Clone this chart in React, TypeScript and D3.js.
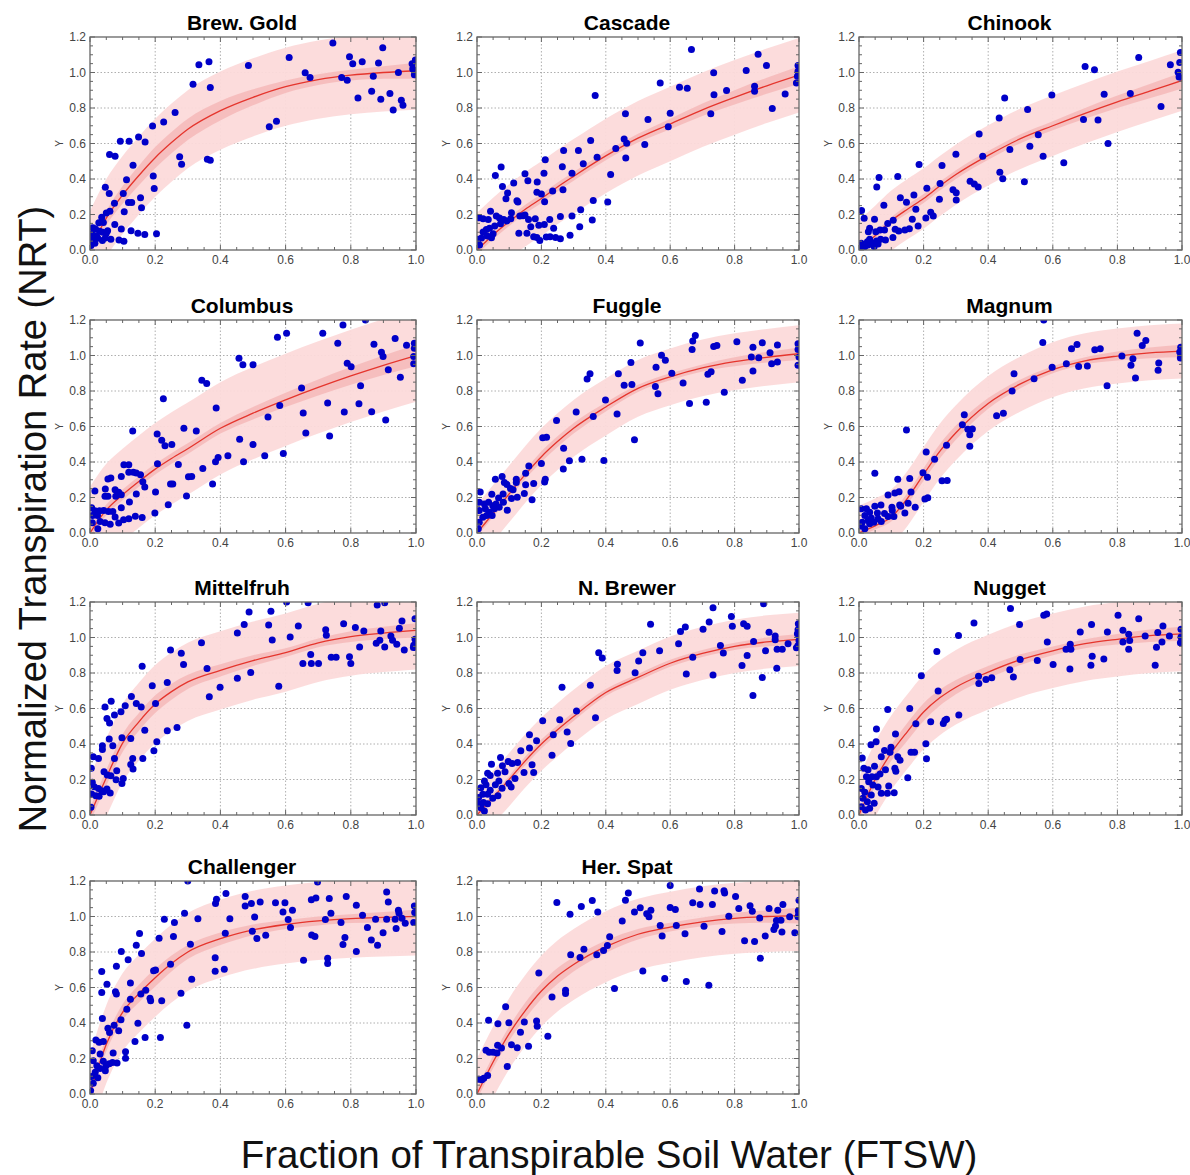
import React from "react";
import * as d3 from "d3";

const FIT_X = [0, 0.05, 0.1, 0.15, 0.2, 0.25, 0.3, 0.4, 0.5, 0.6, 0.7, 0.8, 0.9, 1.0];

const X_TICKS = [0, 0.2, 0.4, 0.6, 0.8, 1.0];
const Y_TICKS = [0, 0.2, 0.4, 0.6, 0.8, 1.0, 1.2];

const brewGoldFit = [0, 0.18, 0.31, 0.42, 0.52, 0.605, 0.68, 0.785, 0.86, 0.92, 0.96, 0.985, 1.0, 1.01];
const cascadeFit = [0.0, 0.085, 0.16, 0.23, 0.29, 0.355, 0.415, 0.53, 0.63, 0.71, 0.79, 0.86, 0.925, 0.985];
const chinookFit = [0.0, 0.08, 0.165, 0.23, 0.29, 0.36, 0.425, 0.533, 0.627, 0.7, 0.77, 0.835, 0.895, 0.955];
const columbusFit = [0.0, 0.13, 0.215, 0.29, 0.36, 0.42, 0.475, 0.59, 0.675, 0.75, 0.82, 0.885, 0.945, 1.0];
const fuggleFit = [0.0, 0.11, 0.22, 0.33, 0.43, 0.515, 0.59, 0.71, 0.815, 0.88, 0.93, 0.965, 0.99, 1.01];
const magnumFit = [0.0, 0.04, 0.09, 0.195, 0.33, 0.46, 0.565, 0.73, 0.84, 0.92, 0.97, 0.997, 1.015, 1.025];
const mittelFit = [0.0, 0.21, 0.405, 0.525, 0.625, 0.695, 0.75, 0.815, 0.87, 0.915, 0.97, 1.005, 1.025, 1.04];
const nBrewerFit = [0.0, 0.1, 0.2, 0.305, 0.4, 0.48, 0.555, 0.69, 0.775, 0.855, 0.91, 0.95, 0.975, 0.99];
const nuggetFit = [0.0, 0.2, 0.35, 0.47, 0.58, 0.66, 0.72, 0.805, 0.875, 0.925, 0.965, 0.99, 1.01, 1.02];
const challengerFit = [0.0, 0.28, 0.46, 0.565, 0.655, 0.735, 0.8, 0.875, 0.925, 0.955, 0.975, 0.988, 0.995, 1.0];
const herSpatFit = [0.0, 0.18, 0.34, 0.47, 0.58, 0.665, 0.73, 0.83, 0.9, 0.94, 0.97, 0.99, 1.0, 1.005];

// confidence band half-widths on FIT_X
const brewGoldConf = [0.03, 0.04, 0.05, 0.055, 0.06, 0.06, 0.06, 0.055, 0.045, 0.035, 0.03, 0.03, 0.035, 0.045];
const cascadeConf = [0.025, 0.025, 0.025, 0.025, 0.025, 0.025, 0.025, 0.025, 0.025, 0.03, 0.035, 0.04, 0.045, 0.05];
const chinookConf = [0.02, 0.02, 0.02, 0.025, 0.025, 0.025, 0.025, 0.025, 0.025, 0.025, 0.03, 0.035, 0.04, 0.045];
const columbusConf = [0.03, 0.03, 0.03, 0.03, 0.03, 0.03, 0.03, 0.03, 0.035, 0.04, 0.045, 0.05, 0.055, 0.06];
const fuggleConf = [0.02, 0.02, 0.025, 0.025, 0.03, 0.03, 0.03, 0.025, 0.02, 0.02, 0.02, 0.025, 0.03, 0.035];
const magnumConf = [0.02, 0.02, 0.025, 0.03, 0.035, 0.04, 0.04, 0.03, 0.025, 0.02, 0.02, 0.025, 0.03, 0.035];
const mittelConf = [0.04, 0.045, 0.05, 0.05, 0.05, 0.045, 0.04, 0.035, 0.03, 0.025, 0.025, 0.03, 0.035, 0.04];
const nBrewerConf = [0.02, 0.02, 0.02, 0.025, 0.025, 0.025, 0.025, 0.02, 0.02, 0.02, 0.02, 0.02, 0.025, 0.03];
const nuggetConf = [0.03, 0.04, 0.045, 0.05, 0.05, 0.045, 0.04, 0.035, 0.03, 0.025, 0.025, 0.03, 0.035, 0.04];
const challengerConf = [0.03, 0.04, 0.045, 0.05, 0.05, 0.045, 0.04, 0.035, 0.03, 0.025, 0.025, 0.025, 0.03, 0.04];
const herSpatConf = [0.03, 0.035, 0.04, 0.045, 0.045, 0.045, 0.04, 0.035, 0.03, 0.025, 0.025, 0.03, 0.035, 0.045];

const brewGoldPts: [number, number][] = [
  [0.745, 1.166], [0.898, 1.14], [0.611, 1.085], [0.796, 1.089], [0.806, 1.049], [0.835, 1.06], [0.885, 1.053],
  [0.988, 1.049], [0.998, 1.07], [0.99, 1.02], [0.995, 0.987], [0.946, 1.0], [0.66, 0.998], [0.675, 0.972],
  [0.772, 0.972], [0.789, 0.957], [0.869, 0.979], [0.486, 1.04], [0.334, 1.043], [0.365, 1.06], [0.369, 0.915],
  [0.316, 0.934], [0.822, 0.857], [0.864, 0.894], [0.892, 0.849], [0.92, 0.881], [0.93, 0.789], [0.955, 0.843],
  [0.96, 0.815], [0.55, 0.694], [0.572, 0.725], [0.261, 0.774], [0.226, 0.721], [0.192, 0.698], [0.149, 0.636],
  [0.093, 0.613], [0.12, 0.613], [0.169, 0.609], [0.06, 0.538], [0.077, 0.528], [0.275, 0.525], [0.281, 0.483],
  [0.36, 0.511], [0.369, 0.506], [0.132, 0.477], [0.194, 0.417], [0.197, 0.347], [0.112, 0.396], [0.047, 0.353],
  [0.059, 0.319], [0.102, 0.319], [0.075, 0.264], [0.118, 0.268], [0.128, 0.268], [0.155, 0.294], [0.158, 0.238],
  [0.105, 0.215], [0.061, 0.219], [0.05, 0.208], [0.036, 0.185], [0.027, 0.153], [0.041, 0.155], [0.009, 0.125],
  [0.017, 0.119], [0.054, 0.109], [0.03, 0.106], [0.076, 0.143], [0.096, 0.119], [0.126, 0.109], [0.147, 0.094],
  [0.168, 0.087], [0.204, 0.091], [0.005, 0.091], [0.007, 0.057], [0.015, 0.038], [0.024, 0.066], [0.038, 0.053],
  [0.047, 0.068], [0.064, 0.06], [0.089, 0.057], [0.104, 0.049], [0.003, 0.025], [0.0, 0.072], [0.05, 0.094],
  [0.039, 0.1], [0.02, 0.08],
];

const cascadePts: [number, number][] = [
  [0.666, 1.129], [0.873, 1.103], [0.899, 1.039], [0.836, 1.011], [0.735, 0.999], [0.997, 1.039], [0.997, 1.007],
  [0.995, 0.979], [0.992, 0.941], [0.569, 0.941], [0.629, 0.917], [0.653, 0.911], [0.862, 0.923], [0.862, 0.894],
  [0.775, 0.898], [0.736, 0.874], [0.957, 0.879], [0.367, 0.87], [0.917, 0.797], [0.461, 0.767], [0.6, 0.771],
  [0.726, 0.767], [0.531, 0.735], [0.594, 0.694], [0.457, 0.626], [0.353, 0.617], [0.465, 0.602], [0.521, 0.594],
  [0.431, 0.572], [0.315, 0.561], [0.269, 0.561], [0.373, 0.523], [0.462, 0.519], [0.212, 0.508], [0.33, 0.486],
  [0.265, 0.469], [0.075, 0.467], [0.295, 0.433], [0.208, 0.433], [0.149, 0.429], [0.415, 0.426], [0.057, 0.42],
  [0.158, 0.39], [0.187, 0.383], [0.114, 0.377], [0.079, 0.358], [0.267, 0.339], [0.235, 0.332], [0.186, 0.326],
  [0.2, 0.315], [0.095, 0.321], [0.09, 0.289], [0.124, 0.278], [0.127, 0.27], [0.21, 0.272], [0.361, 0.279],
  [0.406, 0.27], [0.322, 0.227], [0.042, 0.219], [0.107, 0.21], [0.007, 0.182], [0.019, 0.176], [0.035, 0.172],
  [0.06, 0.191], [0.07, 0.18], [0.083, 0.172], [0.093, 0.163], [0.105, 0.176], [0.133, 0.191], [0.143, 0.193],
  [0.149, 0.197], [0.16, 0.172], [0.181, 0.176], [0.259, 0.189], [0.295, 0.191], [0.358, 0.169], [0.192, 0.139],
  [0.209, 0.144], [0.226, 0.172], [0.167, 0.131], [0.073, 0.148], [0.055, 0.135], [0.039, 0.122], [0.029, 0.116],
  [0.019, 0.101], [0.05, 0.092], [0.032, 0.079], [0.045, 0.069], [0.014, 0.068], [0.003, 0.06], [0.008, 0.028],
  [0.13, 0.094], [0.155, 0.094], [0.176, 0.075], [0.186, 0.071], [0.195, 0.054], [0.215, 0.073], [0.227, 0.075],
  [0.238, 0.122], [0.244, 0.071], [0.259, 0.064], [0.289, 0.083], [0.319, 0.131],
];

const chinookPts: [number, number][] = [
  [0.995, 1.113], [0.866, 1.085], [0.964, 1.044], [0.993, 1.057], [0.988, 1.002], [0.991, 0.974], [0.7, 1.034],
  [0.729, 1.016], [0.84, 0.882], [0.759, 0.878], [0.597, 0.873], [0.451, 0.856], [0.522, 0.792], [0.434, 0.743],
  [0.695, 0.735], [0.74, 0.732], [0.935, 0.809], [0.372, 0.653], [0.555, 0.649], [0.771, 0.6], [0.529, 0.585],
  [0.3, 0.54], [0.383, 0.528], [0.57, 0.528], [0.467, 0.566], [0.634, 0.491], [0.186, 0.481], [0.257, 0.476],
  [0.436, 0.438], [0.445, 0.402], [0.512, 0.384], [0.344, 0.387], [0.357, 0.372], [0.369, 0.355], [0.062, 0.408],
  [0.055, 0.355], [0.12, 0.414], [0.251, 0.374], [0.21, 0.348], [0.291, 0.339], [0.301, 0.322], [0.128, 0.295],
  [0.147, 0.269], [0.17, 0.31], [0.249, 0.286], [0.301, 0.282], [0.077, 0.252], [0.176, 0.229], [0.222, 0.213],
  [0.23, 0.192], [0.207, 0.18], [0.183, 0.135], [0.165, 0.173], [0.106, 0.167], [0.048, 0.173], [0.016, 0.179],
  [0.008, 0.222], [0.089, 0.15], [0.112, 0.117], [0.123, 0.107], [0.142, 0.113], [0.156, 0.12], [0.029, 0.103],
  [0.052, 0.103], [0.065, 0.113], [0.079, 0.113], [0.033, 0.122], [0.105, 0.07], [0.082, 0.056], [0.067, 0.06],
  [0.054, 0.051], [0.04, 0.038], [0.028, 0.028], [0.018, 0.019], [0.007, 0.038], [0.012, 0.009], [0.033, 0.06],
  [0.026, 0.047], [0.005, 0.015], [0.047, 0.019], [0.059, 0.034],
];

const columbusPts: [number, number][] = [
  [0.845, 1.2], [0.776, 1.172], [0.714, 1.125], [0.603, 1.125], [0.575, 1.103], [0.936, 1.096], [0.76, 1.069],
  [0.871, 1.064], [0.971, 1.058], [0.995, 1.069], [0.995, 1.041], [0.894, 1.019], [0.899, 0.995], [0.993, 0.995],
  [0.993, 0.954], [0.457, 0.985], [0.469, 0.948], [0.5, 0.948], [0.789, 0.957], [0.801, 0.937], [0.915, 0.92],
  [0.952, 0.877], [0.343, 0.86], [0.358, 0.842], [0.83, 0.829], [0.649, 0.817], [0.225, 0.756], [0.387, 0.704],
  [0.582, 0.719], [0.729, 0.733], [0.825, 0.728], [0.654, 0.676], [0.546, 0.653], [0.78, 0.681], [0.864, 0.683],
  [0.907, 0.636], [0.735, 0.547], [0.662, 0.564], [0.288, 0.59], [0.326, 0.575], [0.131, 0.575], [0.206, 0.558],
  [0.22, 0.523], [0.251, 0.498], [0.23, 0.491], [0.459, 0.528], [0.5, 0.498], [0.593, 0.448], [0.536, 0.435],
  [0.423, 0.435], [0.393, 0.426], [0.385, 0.401], [0.471, 0.401], [0.207, 0.39], [0.271, 0.386], [0.346, 0.364],
  [0.312, 0.319], [0.302, 0.317], [0.104, 0.384], [0.119, 0.384], [0.119, 0.342], [0.133, 0.342], [0.142, 0.338],
  [0.155, 0.328], [0.096, 0.319], [0.162, 0.289], [0.168, 0.259], [0.201, 0.231], [0.247, 0.276], [0.254, 0.276],
  [0.376, 0.276], [0.142, 0.22], [0.296, 0.209], [0.24, 0.159], [0.055, 0.304], [0.064, 0.31], [0.047, 0.248],
  [0.077, 0.243], [0.088, 0.23], [0.079, 0.207], [0.096, 0.215], [0.046, 0.207], [0.055, 0.207], [0.015, 0.237],
  [0.121, 0.174], [0.096, 0.142], [0.005, 0.142], [0.015, 0.125], [0.029, 0.125], [0.042, 0.127], [0.057, 0.121],
  [0.07, 0.121], [0.008, 0.099], [0.023, 0.099], [0.077, 0.09], [0.139, 0.095], [0.16, 0.088], [0.199, 0.112],
  [0.119, 0.08], [0.103, 0.075], [0.088, 0.056], [0.031, 0.065], [0.046, 0.058], [0.062, 0.049], [0.007, 0.058],
  [0.024, 0.024],
];

const fugglePts: [number, number][] = [
  [0.678, 1.113], [0.67, 1.081], [0.668, 1.034], [0.507, 1.07], [0.807, 1.077], [0.886, 1.072], [0.857, 1.047],
  [0.933, 1.059], [0.735, 1.051], [0.745, 1.057], [0.997, 1.066], [0.997, 1.034], [1.0, 0.992], [0.997, 0.945],
  [0.91, 1.016], [0.852, 0.992], [0.875, 0.988], [0.573, 1.001], [0.585, 0.973], [0.933, 0.964], [0.915, 0.954],
  [0.478, 0.96], [0.556, 0.934], [0.727, 0.908], [0.717, 0.895], [0.857, 0.913], [0.605, 0.9], [0.351, 0.897],
  [0.342, 0.867], [0.439, 0.897], [0.824, 0.861], [0.64, 0.845], [0.457, 0.833], [0.481, 0.837], [0.554, 0.826],
  [0.562, 0.785], [0.768, 0.793], [0.399, 0.75], [0.66, 0.729], [0.712, 0.737], [0.308, 0.681], [0.435, 0.67],
  [0.361, 0.657], [0.247, 0.634], [0.204, 0.536], [0.216, 0.54], [0.489, 0.525], [0.269, 0.478], [0.161, 0.378],
  [0.2, 0.391], [0.287, 0.407], [0.326, 0.415], [0.394, 0.409], [0.268, 0.361], [0.151, 0.337], [0.122, 0.303],
  [0.122, 0.285], [0.212, 0.303], [0.21, 0.288], [0.176, 0.279], [0.151, 0.272], [0.093, 0.273], [0.057, 0.303],
  [0.078, 0.318], [0.085, 0.285], [0.104, 0.251], [0.112, 0.244], [0.081, 0.22], [0.067, 0.197], [0.107, 0.195],
  [0.125, 0.201], [0.147, 0.223], [0.171, 0.188], [0.046, 0.218], [0.01, 0.231], [0.094, 0.128], [0.007, 0.173],
  [0.023, 0.164], [0.036, 0.173], [0.049, 0.154], [0.059, 0.164], [0.069, 0.145], [0.082, 0.173], [0.026, 0.136],
  [0.007, 0.127], [0.038, 0.117], [0.018, 0.089], [0.007, 0.061], [0.03, 0.099], [0.054, 0.136], [0.004, 0.024],
  [0.047, 0.099],
];

const magnumPts: [number, number][] = [
  [0.572, 1.2], [0.861, 1.126], [0.888, 1.085], [0.569, 1.073], [0.675, 1.062], [0.658, 1.038], [0.73, 1.033],
  [0.747, 1.038], [0.877, 1.057], [0.996, 1.047], [0.993, 1.02], [0.995, 0.986], [0.814, 0.997], [0.848, 0.982],
  [0.842, 0.945], [0.928, 0.958], [0.926, 0.917], [0.642, 0.953], [0.598, 0.934], [0.68, 0.938], [0.707, 0.941],
  [0.856, 0.873], [0.542, 0.869], [0.48, 0.897], [0.768, 0.83], [0.474, 0.8], [0.326, 0.666], [0.32, 0.61],
  [0.426, 0.66], [0.447, 0.675], [0.337, 0.584], [0.351, 0.586], [0.343, 0.554], [0.147, 0.58], [0.343, 0.489],
  [0.271, 0.495], [0.208, 0.456], [0.234, 0.415], [0.198, 0.34], [0.212, 0.314], [0.257, 0.294], [0.273, 0.296],
  [0.157, 0.307], [0.12, 0.303], [0.049, 0.337], [0.161, 0.231], [0.124, 0.233], [0.111, 0.225], [0.09, 0.214],
  [0.204, 0.192], [0.213, 0.199], [0.174, 0.145], [0.152, 0.167], [0.126, 0.158], [0.129, 0.151], [0.102, 0.145],
  [0.103, 0.127], [0.142, 0.113], [0.068, 0.158], [0.049, 0.151], [0.023, 0.136], [0.007, 0.136], [0.033, 0.117],
  [0.057, 0.113], [0.079, 0.11], [0.09, 0.093], [0.108, 0.093], [0.018, 0.099], [0.038, 0.084], [0.059, 0.08],
  [0.069, 0.065], [0.028, 0.071], [0.01, 0.061], [0.046, 0.061], [0.007, 0.039], [0.018, 0.024], [0.033, 0.052],
];

const mittelPts: [number, number][] = [
  [0.603, 1.2], [0.669, 1.196], [0.881, 1.183], [0.904, 1.196], [0.488, 1.144], [0.555, 1.148], [0.997, 1.106],
  [0.957, 1.093], [0.473, 1.073], [0.548, 1.071], [0.639, 1.065], [0.778, 1.078], [0.814, 1.056], [0.949, 1.052],
  [0.723, 1.043], [0.84, 1.037], [0.892, 1.037], [0.452, 1.026], [0.725, 1.013], [0.614, 1.003], [0.923, 1.009],
  [0.928, 0.984], [0.559, 0.986], [0.342, 0.971], [0.889, 0.984], [0.878, 0.968], [0.941, 0.962], [0.997, 0.99],
  [0.993, 0.956], [0.992, 0.943], [0.964, 0.93], [0.904, 0.947], [0.827, 0.947], [0.247, 0.93], [0.28, 0.911],
  [0.677, 0.904], [0.74, 0.889], [0.755, 0.889], [0.796, 0.891], [0.287, 0.848], [0.16, 0.838], [0.653, 0.853],
  [0.679, 0.853], [0.701, 0.853], [0.8, 0.853], [0.359, 0.825], [0.493, 0.803], [0.452, 0.771], [0.237, 0.746],
  [0.191, 0.728], [0.579, 0.726], [0.399, 0.72], [0.366, 0.666], [0.127, 0.668], [0.142, 0.628], [0.157, 0.609],
  [0.201, 0.628], [0.046, 0.609], [0.065, 0.641], [0.108, 0.615], [0.095, 0.581], [0.075, 0.563], [0.052, 0.544],
  [0.06, 0.519], [0.168, 0.478], [0.237, 0.474], [0.267, 0.493], [0.098, 0.435], [0.059, 0.428], [0.125, 0.431],
  [0.038, 0.39], [0.038, 0.369], [0.07, 0.39], [0.205, 0.413], [0.196, 0.362], [0.131, 0.319], [0.162, 0.319],
  [0.01, 0.328], [0.026, 0.319], [0.075, 0.319], [0.004, 0.263], [0.132, 0.259], [0.125, 0.285], [0.043, 0.244],
  [0.053, 0.225], [0.064, 0.221], [0.082, 0.249], [0.08, 0.199], [0.102, 0.206], [0.098, 0.178], [0.007, 0.184],
  [0.013, 0.159], [0.026, 0.15], [0.036, 0.137], [0.052, 0.146], [0.062, 0.124], [0.005, 0.118], [0.018, 0.109],
  [0.028, 0.105], [0.042, 0.131], [0.003, 0.043],
];

const nBrewerPts: [number, number][] = [
  [0.89, 1.19], [0.733, 1.168], [0.79, 1.119], [0.721, 1.087], [0.539, 1.074], [0.828, 1.078], [0.839, 1.063],
  [0.647, 1.059], [0.793, 1.064], [0.702, 1.046], [0.632, 1.034], [0.907, 1.03], [0.998, 1.078], [0.997, 1.044],
  [0.995, 1.021], [1.0, 0.983], [0.997, 0.955], [0.992, 0.942], [0.926, 1.008], [0.926, 0.987], [0.859, 0.978],
  [0.966, 0.965], [0.626, 0.965], [0.756, 0.955], [0.932, 0.934], [0.948, 0.934], [0.896, 0.925], [0.567, 0.925],
  [0.515, 0.914], [0.765, 0.912], [0.378, 0.914], [0.389, 0.884], [0.839, 0.899], [0.67, 0.889], [0.502, 0.867],
  [0.436, 0.85], [0.435, 0.814], [0.823, 0.842], [0.931, 0.827], [0.491, 0.801], [0.65, 0.795], [0.733, 0.789],
  [0.886, 0.774], [0.857, 0.673], [0.264, 0.72], [0.352, 0.731], [0.309, 0.586], [0.368, 0.548], [0.204, 0.531],
  [0.257, 0.537], [0.28, 0.467], [0.163, 0.452], [0.237, 0.452], [0.291, 0.403], [0.233, 0.337], [0.185, 0.418],
  [0.163, 0.377], [0.136, 0.362], [0.171, 0.283], [0.176, 0.239], [0.146, 0.239], [0.073, 0.324], [0.097, 0.301],
  [0.109, 0.29], [0.126, 0.296], [0.079, 0.277], [0.087, 0.243], [0.045, 0.286], [0.033, 0.235], [0.041, 0.222],
  [0.064, 0.235], [0.118, 0.205], [0.099, 0.177], [0.106, 0.158], [0.068, 0.192], [0.023, 0.192], [0.028, 0.17],
  [0.057, 0.17], [0.078, 0.151], [0.065, 0.109], [0.041, 0.139], [0.012, 0.154], [0.018, 0.117], [0.033, 0.117],
  [0.049, 0.094], [0.005, 0.098], [0.007, 0.064], [0.02, 0.07], [0.033, 0.064], [0.012, 0.041], [0.023, 0.023],
];

const nuggetPts: [number, number][] = [
  [0.469, 1.163], [0.581, 1.133], [0.572, 1.125], [0.802, 1.125], [0.866, 1.106], [0.356, 1.082], [0.497, 1.073],
  [0.72, 1.073], [0.941, 1.065], [0.997, 1.046], [0.817, 1.041], [0.769, 1.031], [0.685, 1.031], [0.835, 1.018],
  [0.308, 1.011], [0.886, 1.009], [0.961, 1.009], [0.925, 1.028], [0.997, 1.003], [1.0, 0.981], [0.995, 0.971],
  [0.817, 0.975], [0.838, 0.983], [0.938, 0.975], [0.583, 0.975], [0.654, 0.962], [0.641, 0.934], [0.656, 0.934],
  [0.835, 0.934], [0.921, 0.945], [0.241, 0.921], [0.722, 0.894], [0.758, 0.879], [0.552, 0.87], [0.499, 0.876],
  [0.601, 0.848], [0.718, 0.844], [0.917, 0.844], [0.653, 0.823], [0.467, 0.819], [0.478, 0.778], [0.37, 0.782],
  [0.193, 0.784], [0.371, 0.741], [0.393, 0.763], [0.411, 0.773], [0.245, 0.698], [0.089, 0.594], [0.157, 0.6],
  [0.309, 0.563], [0.222, 0.525], [0.176, 0.514], [0.261, 0.516], [0.266, 0.534], [0.271, 0.54], [0.054, 0.484],
  [0.113, 0.456], [0.053, 0.413], [0.037, 0.396], [0.207, 0.401], [0.161, 0.354], [0.172, 0.354], [0.209, 0.317],
  [0.099, 0.381], [0.096, 0.354], [0.079, 0.364], [0.12, 0.328], [0.127, 0.309], [0.111, 0.263], [0.114, 0.246],
  [0.082, 0.255], [0.069, 0.328], [0.048, 0.274], [0.01, 0.321], [0.015, 0.263], [0.028, 0.255], [0.023, 0.216],
  [0.04, 0.216], [0.054, 0.216], [0.065, 0.231], [0.03, 0.188], [0.043, 0.169], [0.059, 0.158], [0.151, 0.21],
  [0.092, 0.163], [0.109, 0.126], [0.088, 0.122], [0.069, 0.122], [0.007, 0.15], [0.018, 0.128], [0.038, 0.113],
  [0.012, 0.094], [0.026, 0.075], [0.047, 0.066], [0.007, 0.047], [0.02, 0.028], [0.033, 0.038],
];

const challengerPts: [number, number][] = [
  [0.3, 1.2], [0.698, 1.194], [0.91, 1.138], [0.417, 1.129], [0.476, 1.112], [0.786, 1.112], [0.693, 1.104],
  [0.679, 1.095], [0.734, 1.101], [0.388, 1.097], [0.385, 1.073], [0.495, 1.073], [0.476, 1.059], [0.522, 1.082],
  [0.569, 1.078], [0.915, 1.082], [0.598, 1.078], [0.817, 1.063], [0.592, 1.026], [0.621, 1.035], [0.739, 1.018],
  [0.946, 1.035], [0.995, 1.059], [0.948, 1.018], [0.996, 1.022], [0.29, 1.018], [0.228, 0.984], [0.331, 0.988],
  [0.429, 0.988], [0.505, 0.997], [0.608, 0.983], [0.722, 0.983], [0.77, 0.966], [0.836, 1.007], [0.876, 0.984],
  [0.91, 0.984], [0.936, 0.984], [0.957, 0.99], [0.967, 0.962], [0.993, 0.966], [0.939, 0.932], [0.851, 0.938],
  [0.615, 0.938], [0.259, 0.966], [0.498, 0.917], [0.415, 0.906], [0.899, 0.909], [0.68, 0.896], [0.69, 0.887],
  [0.152, 0.904], [0.212, 0.878], [0.256, 0.887], [0.512, 0.876], [0.539, 0.894], [0.782, 0.881], [0.863, 0.868],
  [0.308, 0.844], [0.142, 0.838], [0.776, 0.842], [0.882, 0.838], [0.096, 0.803], [0.817, 0.803], [0.158, 0.791],
  [0.384, 0.767], [0.729, 0.765], [0.117, 0.756], [0.655, 0.754], [0.729, 0.735], [0.247, 0.731], [0.081, 0.72],
  [0.412, 0.703], [0.384, 0.692], [0.195, 0.694], [0.201, 0.699], [0.036, 0.69], [0.312, 0.647], [0.124, 0.626],
  [0.052, 0.619], [0.036, 0.572], [0.078, 0.576], [0.081, 0.563], [0.171, 0.585], [0.156, 0.563], [0.279, 0.568],
  [0.184, 0.54], [0.186, 0.525], [0.22, 0.525], [0.124, 0.534], [0.113, 0.478], [0.038, 0.426], [0.095, 0.418],
  [0.147, 0.399], [0.297, 0.388], [0.088, 0.356], [0.055, 0.371], [0.06, 0.347], [0.074, 0.388], [0.169, 0.319],
  [0.216, 0.319], [0.138, 0.296], [0.018, 0.304], [0.028, 0.291], [0.041, 0.296], [0.007, 0.244], [0.109, 0.238],
  [0.071, 0.231], [0.031, 0.225], [0.041, 0.184], [0.049, 0.159], [0.059, 0.171], [0.069, 0.178], [0.083, 0.174],
  [0.109, 0.201], [0.01, 0.188], [0.021, 0.159], [0.031, 0.144], [0.016, 0.122], [0.005, 0.099], [0.024, 0.092],
  [0.01, 0.06], [0.002, 0.019], [0.047, 0.131],
];

const herSpatPts: [number, number][] = [
  [0.6, 1.174], [0.691, 1.155], [0.47, 1.132], [0.738, 1.143], [0.767, 1.145], [0.769, 1.132], [0.358, 1.09],
  [0.461, 1.092], [0.248, 1.079], [0.803, 1.113], [1.0, 1.092], [0.67, 1.077], [0.693, 1.068], [0.731, 1.068],
  [0.95, 1.068], [0.324, 1.056], [0.507, 1.049], [0.6, 1.051], [0.616, 1.039], [0.848, 1.06], [0.934, 1.035],
  [0.998, 1.032], [0.999, 1.011], [0.997, 0.998], [0.971, 0.998], [0.375, 1.026], [0.289, 1.013], [0.489, 1.026],
  [0.527, 1.016], [0.54, 1.035], [0.813, 1.045], [0.855, 1.03], [0.782, 1.001], [0.878, 0.992], [0.907, 1.045],
  [0.451, 0.975], [0.534, 0.998], [0.944, 0.979], [0.93, 0.977], [0.927, 0.946], [0.922, 0.927], [0.569, 0.95],
  [0.619, 0.95], [0.705, 0.945], [0.947, 0.912], [0.987, 0.909], [0.761, 0.916], [0.646, 0.903], [0.575, 0.89],
  [0.412, 0.886], [0.895, 0.89], [0.831, 0.863], [0.862, 0.859], [0.405, 0.837], [0.332, 0.816], [0.393, 0.808],
  [0.291, 0.784], [0.372, 0.784], [0.32, 0.769], [0.88, 0.765], [0.515, 0.693], [0.192, 0.681], [0.583, 0.651],
  [0.65, 0.634], [0.72, 0.613], [0.427, 0.594], [0.275, 0.585], [0.275, 0.566], [0.233, 0.547], [0.185, 0.411],
  [0.187, 0.382], [0.089, 0.492], [0.036, 0.416], [0.065, 0.396], [0.099, 0.401], [0.147, 0.405], [0.135, 0.348],
  [0.22, 0.326], [0.107, 0.278], [0.125, 0.261], [0.16, 0.269], [0.064, 0.274], [0.076, 0.259], [0.028, 0.246],
  [0.038, 0.235], [0.05, 0.235], [0.062, 0.231], [0.094, 0.155], [0.033, 0.104], [0.021, 0.089], [0.005, 0.083],
  [0.015, 0.08],
];

const PANELS = [
  { title: "Brew. Gold", pts: brewGoldPts, fit: brewGoldFit, pred: 0.22, conf: brewGoldConf },
  { title: "Cascade", pts: cascadePts, fit: cascadeFit, pred: 0.21, conf: cascadeConf },
  { title: "Chinook", pts: chinookPts, fit: chinookFit, pred: 0.17, conf: chinookConf },
  { title: "Columbus", pts: columbusPts, fit: columbusFit, pred: 0.26, conf: columbusConf },
  { title: "Fuggle", pts: fugglePts, fit: fuggleFit, pred: 0.16, conf: fuggleConf },
  { title: "Magnum", pts: magnumPts, fit: magnumFit, pred: 0.155, conf: magnumConf },
  { title: "Mittelfruh", pts: mittelPts, fit: mittelFit, pred: 0.22, conf: mittelConf },
  { title: "N. Brewer", pts: nBrewerPts, fit: nBrewerFit, pred: 0.15, conf: nBrewerConf },
  { title: "Nugget", pts: nuggetPts, fit: nuggetFit, pred: 0.21, conf: nuggetConf },
  { title: "Challenger", pts: challengerPts, fit: challengerFit, pred: 0.22, conf: challengerConf },
  { title: "Her. Spat", pts: herSpatPts, fit: herSpatFit, pred: 0.2, conf: herSpatConf },
];

const COL_X = [90, 477, 859];
const COL_W = [326, 322, 323];
const ROW_Y = [37, 320, 602, 881];
const PANEL_H = 213;

const FONT = "'Liberation Sans', Arial, Helvetica, sans-serif";
const fmt = d3.format(".1f");

function Panel({ p, x0, y0, w, h, idx }: any) {
  const xs = d3.scaleLinear().domain([0, 1]).range([x0, x0 + w]);
  const ys = d3.scaleLinear().domain([0, 1.2]).range([y0 + h, y0]);
  const line = d3
    .line<number>()
    .x((_, i) => xs(FIT_X[i]))
    .y((d) => ys(d))
    .curve(d3.curveMonotoneX);
  const predArea = d3
    .area<number>()
    .x((_, i) => xs(FIT_X[i]))
    .y0((d) => ys(d - p.pred))
    .y1((d) => ys(d + p.pred))
    .curve(d3.curveMonotoneX);
  const confArea = d3
    .area<number>()
    .x((_, i) => xs(FIT_X[i]))
    .y0((d, i) => ys(d - p.conf[i]))
    .y1((d, i) => ys(d + p.conf[i]))
    .curve(d3.curveMonotoneX);
  const clipId = `clip-${idx}`;
  const xMinor = d3.range(0, 1.0001, 0.05);
  const yMinor = d3.range(0, 1.2001, 0.05);
  const frame = "#666";
  return (
    <g>
      <defs>
        <clipPath id={clipId}>
          <rect x={x0} y={y0} width={w} height={h} />
        </clipPath>
      </defs>
      <rect x={x0} y={y0} width={w} height={h} fill="#fff" />
      {X_TICKS.slice(1, -1).map((t) => (
        <line key={"gx" + t} x1={xs(t)} x2={xs(t)} y1={y0} y2={y0 + h} stroke="#9a9a9a" strokeWidth={0.8} strokeDasharray="1.5,2" />
      ))}
      {Y_TICKS.slice(1, -1).map((t) => (
        <line key={"gy" + t} x1={x0} x2={x0 + w} y1={ys(t)} y2={ys(t)} stroke="#9a9a9a" strokeWidth={0.8} strokeDasharray="1.5,2" />
      ))}
      <g clipPath={`url(#${clipId})`}>
        <path d={predArea(p.fit) || ""} fill="#fcdada" opacity={0.95} />
        <path d={confArea(p.fit) || ""} fill="#f4b4b4" opacity={0.75} />
        <path d={line(p.fit) || ""} fill="none" stroke="#e5352d" strokeWidth={1.3} />
        {p.pts.map((d: [number, number], i: number) => (
          <circle key={i} cx={xs(d[0])} cy={ys(d[1])} r={3.5} fill="#0000c8" />
        ))}
      </g>
      {xMinor.map((t, i) => {
        const len = i % 4 === 0 ? 5 : 3;
        return (
          <g key={"tx" + i}>
            <line x1={xs(t)} x2={xs(t)} y1={y0 + h} y2={y0 + h - len} stroke={frame} strokeWidth={1} />
            <line x1={xs(t)} x2={xs(t)} y1={y0} y2={y0 + len} stroke={frame} strokeWidth={1} />
          </g>
        );
      })}
      {yMinor.map((t, i) => {
        const len = i % 4 === 0 ? 5 : 3;
        return (
          <g key={"ty" + i}>
            <line x1={x0} x2={x0 + len} y1={ys(t)} y2={ys(t)} stroke={frame} strokeWidth={1} />
            <line x1={x0 + w} x2={x0 + w - len} y1={ys(t)} y2={ys(t)} stroke={frame} strokeWidth={1} />
          </g>
        );
      })}
      <rect x={x0} y={y0} width={w} height={h} fill="none" stroke={frame} strokeWidth={1.3} />
      {X_TICKS.map((t) => (
        <text key={"lx" + t} x={xs(t)} y={y0 + h + 14} textAnchor="middle" fontSize={12} fill="#444" fontFamily={FONT}>
          {fmt(t)}
        </text>
      ))}
      {Y_TICKS.map((t) => (
        <text key={"ly" + t} x={x0 - 4} y={ys(t)} dy="0.35em" textAnchor="end" fontSize={12} fill="#444" fontFamily={FONT}>
          {fmt(t)}
        </text>
      ))}
      <text
        transform={`translate(${x0 - 27},${ys(0.6)}) rotate(-90)`}
        textAnchor="middle"
        fontSize={10}
        fill="#444"
        fontFamily={FONT}
      >
        Y
      </text>
      <text x={x0 + w / 2 - 11} y={y0 - 7} textAnchor="middle" fontSize={21} fontWeight="bold" fill="#000" fontFamily={FONT}>
        {p.title}
      </text>
    </g>
  );
}

export default function App() {
  return (
    <div style={{ position: "absolute", left: 0, top: 0 }}>
      <svg width={1190} height={1175} viewBox="0 0 1190 1175" style={{ display: "block", background: "#fff" }}>
        <rect x={0} y={0} width={1190} height={1175} fill="#fff" />
        {PANELS.map((p, i) => {
          const col = i % 3;
          const row = Math.floor(i / 3);
          return <Panel key={p.title} p={p} idx={i} x0={COL_X[col]} y0={ROW_Y[row]} w={COL_W[col]} h={PANEL_H} />;
        })}
        <text
          transform="translate(46,519) rotate(-90)"
          textAnchor="middle"
          fontSize={38}
          fill="#111"
          fontFamily={FONT}
        >
          Normalized Transpiration Rate (NRT)
        </text>
        <text x={609} y={1168} textAnchor="middle" fontSize={38.5} fill="#111" fontFamily={FONT}>
          Fraction of Transpirable Soil Water (FTSW)
        </text>
      </svg>
    </div>
  );
}
